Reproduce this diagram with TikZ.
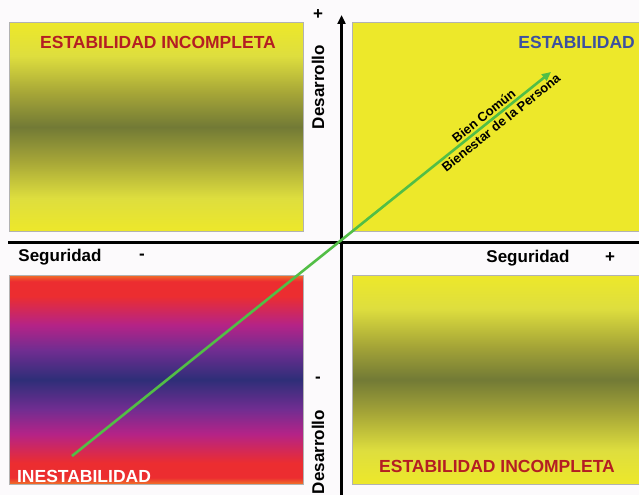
\documentclass[tikz,border=0pt]{standalone}
\usepackage{fontspec}
\setmainfont{Liberation Sans}
\usepackage{xcolor}
\usepackage{tikz}
\usetikzlibrary{arrows.meta,positioning}

\definecolor{paper}{RGB}{252,250,252}
\definecolor{ybright}{RGB}{237,232,42}
\definecolor{ylight}{RGB}{222,222,62}
\definecolor{ymid}{RGB}{165,165,55}
\definecolor{olivedark}{RGB}{114,122,54}
\definecolor{rorange}{RGB}{240,115,40}
\definecolor{rred}{RGB}{236,45,48}
\definecolor{rmagenta}{RGB}{180,35,135}
\definecolor{rpurple}{RGB}{112,45,145}
\definecolor{rblue}{RGB}{46,46,120}
\definecolor{arrowgreen}{RGB}{82,190,70}
\definecolor{titlered}{RGB}{180,30,35}
\definecolor{titleblue}{RGB}{60,80,160}

\pgfdeclareverticalshading{olivebands}{100bp}{color(0bp)=(ybright); color(25bp)=(ybright); color(33bp)=(ylight); color(42bp)=(ymid); color(50bp)=(olivedark); color(58bp)=(ymid); color(67bp)=(ylight); color(75bp)=(ybright); color(100bp)=(ybright)}
\pgfdeclareverticalshading{redbands}{100bp}{color(0bp)=(rorange); color(25bp)=(rorange); color(26.5bp)=(rred); color(30bp)=(rred); color(37bp)=(rmagenta); color(43bp)=(rpurple); color(50bp)=(rblue); color(57bp)=(rpurple); color(63bp)=(rmagenta); color(70bp)=(rred); color(73.5bp)=(rred); color(75bp)=(rorange); color(100bp)=(rorange)}

\tikzset{
  quadbox/.style={draw=gray!60, line width=0.8pt, rectangle, minimum width=294pt, minimum height=209pt, inner sep=0pt},
  bigtext/.style={font=\bfseries\fontsize{17.5}{17.5}\selectfont, inner sep=0pt},
  axistext/.style={font=\bfseries\fontsize{17}{17}\selectfont, inner sep=0pt},
  pathtext/.style={font=\bfseries\fontsize{13}{13}\selectfont, text=black, inner sep=2pt, sloped}
}

\begin{document}
\begin{tikzpicture}[x=1pt, y=-1pt]
    \useasboundingbox[fill=paper] (0,0) rectangle (639,495);

    % Quadrants
    \node[quadbox, shading=olivebands] (incompletaA) at (156,127) {};
    \node[quadbox, fill=ybright] (estable) at (499,127) {};
    \node[quadbox, shading=redbands] (inestable) at (156,379.5) {};
    \node[quadbox, shading=olivebands] (incompletaB) at (499,379.5) {};

    % Axes
    \coordinate (xleft) at (8,242);
    \coordinate (xright) at (639,242);
    \coordinate (ybottom) at (341.5,495);
    \coordinate (ytop) at (341.5,15);
    \draw[line width=3pt] (xleft) -- (xright);
    \draw[line width=2.6pt, -{Triangle[length=9pt, width=8pt]}] (ybottom) -- (ytop);

    % Quadrant titles
    \node[bigtext, titlered] (tincA) at (158,42) {ESTABILIDAD INCOMPLETA};
    \node[bigtext, titleblue, anchor=east] (test) at (635,42) {ESTABILIDAD};
    \node[bigtext, titlered] (tincB) at (497,466) {ESTABILIDAD INCOMPLETA};
    \node[bigtext, white] (tines) at (84,476) {INESTABILIDAD};

    % Axis labels
    \node[axistext] (segL) at (60,257) {Seguridad};
    \node[axistext] (segLsign) at (142,257) {-};
    \node[axistext] (segR) at (528,258) {Seguridad};
    \node[axistext] (segRsign) at (610,258) {+};
    \node[axistext, rotate=90] (desT) at (318,87) {Desarrollo};
    \node[axistext] (desTsign) at (318,15) {+};
    \node[axistext, rotate=90] (desB) at (318,452) {Desarrollo};
    \node[axistext] (desBsign) at (318,380) {-};

    % Path of development
    \coordinate (pstart) at (72,456);
    \coordinate (pend) at (551,72);
    \draw[arrowgreen, line width=2.6pt, -{Triangle[length=9pt, width=8pt]}] (pstart) -- node[pathtext, above, pos=0.87] (bien) {Bien Común} node[pathtext, below, pos=0.885] (persona) {Bienestar de la Persona} (pend);
\end{tikzpicture}
\end{document}
